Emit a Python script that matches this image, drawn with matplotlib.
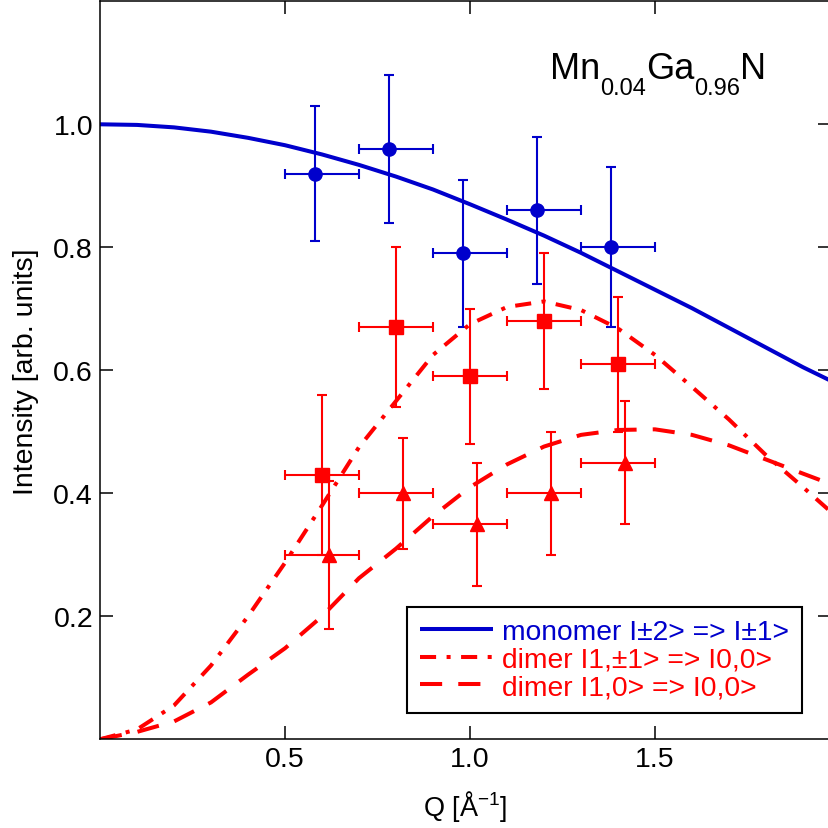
import matplotlib
matplotlib.use('Agg')
import matplotlib.pyplot as plt

plt.rcParams['font.family'] = ['Liberation Sans', 'DejaVu Sans']
plt.rcParams['mathtext.fontset'] = 'custom'
plt.rcParams['mathtext.rm'] = 'Liberation Sans'
plt.rcParams['mathtext.it'] = 'Liberation Sans:italic'
plt.rcParams['mathtext.bf'] = 'Liberation Sans:bold'

# ---------------- data ----------------
q_curve = [0.0, 0.1, 0.2, 0.3, 0.4, 0.5, 0.6, 0.7, 0.8, 0.9, 1.0,
           1.1, 1.2, 1.3, 1.4, 1.5, 1.6, 1.7, 1.8, 1.9, 1.975]
monomer_curve = [1.0, 0.999, 0.995, 0.988, 0.978, 0.966, 0.951, 0.934, 0.915, 0.894, 0.870,
                 0.845, 0.819, 0.791, 0.761, 0.731, 0.701, 0.669, 0.637, 0.605, 0.583]
dimer_pm1_curve = [0.0, 0.016, 0.055, 0.12, 0.20, 0.287, 0.38, 0.475, 0.55, 0.625, 0.675,
                   0.703, 0.712, 0.698, 0.668, 0.625, 0.573, 0.52, 0.462, 0.41, 0.37]
dimer_0_curve = [0.0, 0.012, 0.029, 0.06, 0.105, 0.148, 0.20, 0.262, 0.31, 0.363, 0.41,
                 0.447, 0.476, 0.495, 0.503, 0.504, 0.495, 0.478, 0.455, 0.432, 0.415]

bin_lo = [0.5, 0.7, 0.9, 1.1, 1.3]
bin_hi = [0.7, 0.9, 1.1, 1.3, 1.5]

mono_q = [0.58, 0.78, 0.98, 1.18, 1.38]
mono_I = [0.92, 0.96, 0.79, 0.86, 0.80]
mono_err = [0.11, 0.12, 0.12, 0.12, 0.13]

sq_q = [0.60, 0.80, 1.00, 1.20, 1.40]
sq_I = [0.43, 0.67, 0.59, 0.68, 0.61]
sq_err = [0.13, 0.13, 0.11, 0.11, 0.11]

tri_q = [0.62, 0.82, 1.02, 1.22, 1.42]
tri_I = [0.30, 0.40, 0.35, 0.40, 0.45]
tri_err = [0.12, 0.09, 0.10, 0.10, 0.10]

x_ticks = [0.5, 1.0, 1.5]
y_ticks = [0.2, 0.4, 0.6, 0.8, 1.0]

labels = ['monomer I\u00b12> => I\u00b11>',
          'dimer I1,\u00b11> => I0,0>',
          'dimer I1,0> => I0,0>']

BLUE = '#0000CC'
RED = '#FF0000'

# ---------------- figure ----------------
W = H = 829
fig = plt.figure(figsize=(W / 100, H / 100), dpi=100)
ax = fig.add_axes([100 / W, (H - 740.3) / H, 730.75 / W, 738 / H])

def xerr_of(q):
    return [[qq - lo for qq, lo in zip(q, bin_lo)], [hi - qq for qq, hi in zip(q, bin_hi)]]

eb_kw = dict(linestyle='none', elinewidth=1.5, capsize=3.8, capthick=1.5, markersize=9.5)
ax.errorbar(mono_q, mono_I, yerr=mono_err, xerr=xerr_of(mono_q), marker='o',
            color=BLUE, **eb_kw)
ax.errorbar(sq_q, sq_I, yerr=sq_err, xerr=xerr_of(sq_q), marker='s',
            color=RED, **eb_kw)
ax.errorbar(tri_q, tri_I, yerr=tri_err, xerr=xerr_of(tri_q), marker='^',
            color=RED, **eb_kw)

l1, = ax.plot(q_curve, monomer_curve, color=BLUE, lw=2.9, solid_capstyle='butt')
l2, = ax.plot(q_curve, dimer_pm1_curve, color=RED, lw=2.9,
              linestyle=(0, (4.0, 2.6, 1.0, 2.6)))
l3, = ax.plot(q_curve, dimer_0_curve, color=RED, lw=2.9,
              linestyle=(0, (5.5, 4.0)))

ax.set_xlim(0, 1.975)
ax.set_ylim(0, 1.2)
ax.set_xticks(x_ticks)
ax.set_xticklabels(['%.1f' % v for v in x_ticks])
ax.set_yticks(y_ticks)
ax.set_yticklabels(['%.1f' % v for v in y_ticks])
ax.tick_params(direction='in', length=9.5, width=1.1, top=True, right=True,
               labelsize=20.5, pad=5)
for s in ax.spines.values():
    s.set_linewidth(1.1)

ax.set_xlabel('Q [Å$^{-1}$]', fontsize=19.5, labelpad=11)
ax.set_ylabel('Intensity [arb. units]', fontsize=20.5, labelpad=10)

leg = ax.legend([l1, l2, l3], labels, loc='lower right',
                bbox_to_anchor=(0.96, 0.036), borderaxespad=0,
                fontsize=20.3, handlelength=2.6, handletextpad=0.3,
                labelspacing=0.05, borderpad=0.45, fancybox=False,
                edgecolor='black', framealpha=1)
leg.get_frame().set_linewidth(1.5)
for t, c in zip(leg.get_texts(), [BLUE, RED, RED]):
    t.set_color(c)

# ---------------- title with subscripts ----------------
fig.canvas.draw()
renderer = fig.canvas.get_renderer()
pieces = [('Mn', 26, 0), ('0.04', 17, -16), ('Ga', 26, 0), ('0.96', 17, -16), ('N', 26, 0)]
x = 550.0
base = H - 79
for txt, fs, dy in pieces:
    t = fig.text(x / W, (base + dy) / H, txt, fontsize=fs, va='baseline', ha='left')
    bb = t.get_window_extent(renderer)
    x = bb.x1

fig.savefig('out.png', dpi=100)
